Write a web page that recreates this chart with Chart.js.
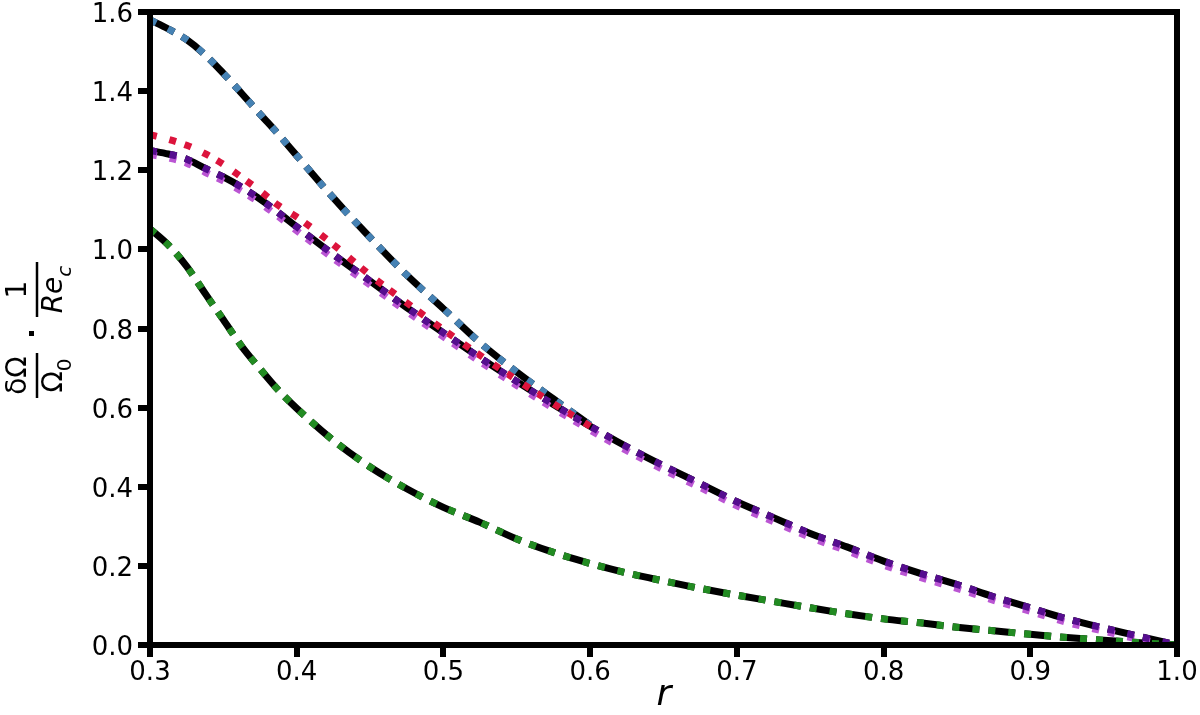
<!DOCTYPE html>
<html lang="en">
<head>
    <meta charset="UTF-8">
    <title>Rotation profile</title>
    <script src="https://cdn.jsdelivr.net/npm/chart.js"></script>
    <style>
        html, body { margin: 0; padding: 0; background: #fff; }
        #wrap { width: 1200px; height: 715px; }
    </style>
</head>
<body>
    <div id="wrap"><canvas id="profileChart"></canvas></div>

    <script>
        // radius grid and curves (null = curve hidden / merged)
        const radius = [0.300, 0.3125, 0.325, 0.3375, 0.350, 0.3625, 0.375, 0.3875, 0.400, 0.425,
                        0.450, 0.475, 0.500, 0.525, 0.550, 0.575, 0.600, 0.625, 0.650, 0.675,
                        0.700, 0.725, 0.750, 0.775, 0.800, 0.825, 0.850, 0.875, 0.900, 0.925,
                        0.950, 0.975, 1.000];

        const upperCurve = [1.580, 1.557, 1.530, 1.492, 1.445, 1.394, 1.342, 1.291, 1.237, 1.130,
                            1.030, 0.935, 0.850, 0.764, 0.690, 0.622, 0.556, null, null, null,
                            null, null, null, null, null, null, null, null, null, null,
                            null, null, null];

        const middleCurve = [1.250, 1.241, 1.228, 1.205, 1.183, 1.157, 1.127, 1.093, 1.057, 0.987,
                             0.920, 0.853, 0.789, 0.726, 0.666, 0.608, 0.553, 0.501, 0.453, 0.408,
                             0.362, 0.322, 0.282, 0.248, 0.212, 0.181, 0.153, 0.122, 0.094, 0.066,
                             0.043, 0.021, 0.000];

        const middleShifted = [1.240, 1.231, 1.218, 1.195, 1.173, 1.147, 1.117, 1.083, 1.047, 0.977,
                               0.910, 0.843, 0.779, 0.716, 0.656, 0.598, 0.543, 0.491, 0.443, 0.398,
                               0.352, 0.312, 0.272, 0.238, 0.202, 0.171, 0.143, 0.113, 0.085, 0.057,
                               0.035, 0.014, 0.000];

        const redCurve = [1.290, 1.278, 1.263, 1.242, 1.215, 1.182, 1.148, 1.111, 1.082, 1.012,
                          0.935, 0.865, 0.797, 0.732, 0.670, 0.610, 0.553, null, null, null,
                          null, null, null, null, null, null, null, null, null, null,
                          null, null, null];

        const lowerCurve = [1.052, 1.011, 0.957, 0.889, 0.822, 0.755, 0.698, 0.644, 0.598, 0.517,
                            0.450, 0.395, 0.348, 0.310, 0.268, 0.234, 0.206, 0.182, 0.162, 0.143,
                            0.126, 0.110, 0.094, 0.079, 0.066, 0.056, 0.045, 0.036, 0.027, 0.019,
                            0.012, 0.006, 0.000];

        const xTicks = [0.3, 0.4, 0.5, 0.6, 0.7, 0.8, 0.9, 1.0];
        const yTicks = [0.0, 0.2, 0.4, 0.6, 0.8, 1.0, 1.2, 1.4, 1.6];

        const FONT = "'DejaVu Sans', 'Liberation Sans', sans-serif";

        function points(values) {
            return radius.map((r, i) => ({ x: r, y: values[i] }));
        }

        function blackDashed(values) {
            return {
                data: points(values),
                borderColor: '#000000',
                borderWidth: 7,
                borderDash: [27, 9],
                pointRadius: 0,
                spanGaps: false,
                cubicInterpolationMode: 'monotone',
                order: 10
            };
        }

        function dotted(values, color, order) {
            return {
                data: points(values),
                borderColor: color,
                borderWidth: 7,
                borderDash: [7, 13, 7, 9],
                pointRadius: 0,
                spanGaps: false,
                cubicInterpolationMode: 'monotone',
                order: order
            };
        }

        // frame, tick labels, axis titles
        const decorations = {
            id: 'decorations',
            afterDatasetsDraw(chart) {
                const { ctx, chartArea: a } = chart;
                ctx.save();
                ctx.strokeStyle = '#000';
                ctx.lineWidth = 6;
                ctx.strokeRect(a.left, a.top, a.right - a.left, a.bottom - a.top);
                ctx.restore();
            },
            afterDraw(chart) {
                const { ctx, scales } = chart;
                ctx.save();
                ctx.fillStyle = '#000';
                ctx.strokeStyle = '#000';

                // tick labels
                ctx.font = '26px ' + FONT;
                ctx.textBaseline = 'alphabetic';
                ctx.textAlign = 'center';
                xTicks.forEach(v => {
                    ctx.fillText(v.toFixed(1), scales.x.getPixelForValue(v), 680);
                });
                ctx.textAlign = 'right';
                yTicks.forEach(v => {
                    ctx.fillText(v.toFixed(1), 133, scales.y.getPixelForValue(v) + 10);
                });

                // x title
                ctx.font = 'italic 36px ' + FONT;
                ctx.textAlign = 'center';
                ctx.fillText('r', 664, 705);

                // y title: dOmega/Omega0 . 1/Re_c, rotated
                ctx.translate(37, 330);
                ctx.rotate(-Math.PI / 2);
                ctx.lineWidth = 2.5;

                // first fraction
                ctx.beginPath();
                ctx.moveTo(-68, 0); ctx.lineTo(-23, 0);
                ctx.stroke();
                ctx.font = '28px ' + FONT;
                ctx.textAlign = 'center';
                ctx.fillText('δΩ', -45.5, -11);
                ctx.textAlign = 'left';
                const wOm = ctx.measureText('Ω').width;
                ctx.font = '20px ' + FONT;
                const wZero = ctx.measureText('0').width;
                let start = -45.5 - (wOm + wZero) / 2;
                ctx.font = '28px ' + FONT;
                ctx.fillText('Ω', start, 25);
                ctx.font = '20px ' + FONT;
                ctx.fillText('0', start + wOm, 34);

                // dot
                ctx.fillRect(-6, -8, 5, 5);

                // second fraction
                ctx.beginPath();
                ctx.moveTo(13, 0); ctx.lineTo(68, 0);
                ctx.stroke();
                ctx.font = '28px ' + FONT;
                ctx.textAlign = 'center';
                ctx.fillText('1', 40.5, -11);
                ctx.textAlign = 'left';
                ctx.font = 'italic 28px ' + FONT;
                const wRe = ctx.measureText('Re').width;
                ctx.font = 'italic 20px ' + FONT;
                const wC = ctx.measureText('c').width;
                start = 40.5 - (wRe + wC) / 2;
                ctx.font = 'italic 28px ' + FONT;
                ctx.fillText('Re', start, 25);
                ctx.font = 'italic 20px ' + FONT;
                ctx.fillText('c', start + wRe, 34);

                ctx.restore();
            }
        };

        const ctx = document.getElementById('profileChart').getContext('2d');

        new Chart(ctx, {
            type: 'line',
            data: {
                datasets: [
                    blackDashed(upperCurve),
                    blackDashed(middleCurve),
                    blackDashed(lowerCurve),
                    dotted(upperCurve, '#4682b4', 5),
                    dotted(redCurve, '#dc143c', 4),
                    dotted(middleShifted, '#ba55d3', 3),
                    dotted(middleCurve, '#560d8f', 1),
                    dotted(lowerCurve, '#228b22', 2)
                ]
            },
            options: {
                responsive: true,
                maintainAspectRatio: false,
                animation: false,
                layout: { padding: { left: 0, right: 23, top: 12, bottom: 0 } },
                plugins: {
                    legend: { display: false },
                    tooltip: { enabled: false }
                },
                scales: {
                    x: {
                        type: 'linear',
                        min: 0.3,
                        max: 1.0,
                        afterBuildTicks: (scale) => { scale.ticks = xTicks.map(v => ({ value: v })); },
                        afterFit: (scale) => {
                            scale.height = 70;
                            scale.paddingLeft = 0;
                            scale.paddingRight = 0;
                        },
                        border: { display: false },
                        grid: {
                            drawOnChartArea: false,
                            drawTicks: true,
                            tickLength: 12,
                            lineWidth: 6,
                            color: '#000'
                        },
                        ticks: { display: false }
                    },
                    y: {
                        type: 'linear',
                        min: 0,
                        max: 1.6,
                        afterBuildTicks: (scale) => { scale.ticks = yTicks.map(v => ({ value: v })); },
                        afterFit: (scale) => {
                            scale.width = 150;
                            scale.paddingTop = 0;
                            scale.paddingBottom = 0;
                        },
                        border: { display: false },
                        grid: {
                            drawOnChartArea: false,
                            drawTicks: true,
                            tickLength: 12,
                            lineWidth: 6,
                            color: '#000'
                        },
                        ticks: { display: false }
                    }
                }
            },
            plugins: [decorations]
        });
    </script>
</body>
</html>
